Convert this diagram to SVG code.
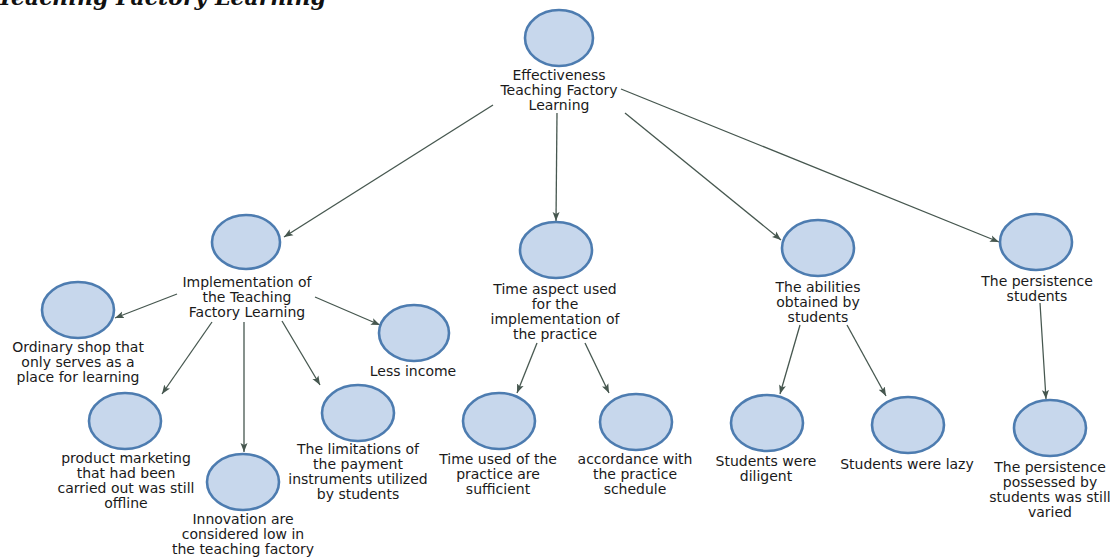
<svg xmlns="http://www.w3.org/2000/svg" width="1114" height="559" viewBox="0 0 1114 559">
<style>
  .node ellipse { fill: #c7d7ec; stroke: #4d7cb0; stroke-width: 2.6; }
  .node text { font-family: "DejaVu Sans", "Liberation Sans", sans-serif; font-size: 14px; fill: #1a1a1a; text-anchor: middle; }
  .edges line { stroke: #46574f; stroke-width: 1.3; fill: none; marker-end: url(#arr); }
  .title { font-family: "DejaVu Serif", "Liberation Serif", serif; font-weight: bold; font-style: italic; font-size: 22px; fill: #111; }
</style>
<defs>
  <marker id="arr" markerWidth="10" markerHeight="8" refX="9" refY="4" orient="auto" markerUnits="userSpaceOnUse">
    <path d="M0,0.5 L9,4 L0,7.5 L2,4 z" fill="#46574f"/>
  </marker>
</defs>
<rect width="1114" height="559" fill="#ffffff"/>
<text class="title" x="326" y="5" text-anchor="end">Teaching Factory Learning</text>

<g class="edges" id="connectors">
  <line x1="493" y1="105" x2="284" y2="237"/>
  <line x1="557" y1="113" x2="556" y2="221"/>
  <line x1="625" y1="113" x2="781" y2="240"/>
  <line x1="621" y1="89" x2="999" y2="242"/>
  <line x1="177" y1="294" x2="115" y2="318"/>
  <line x1="315" y1="297" x2="380" y2="325"/>
  <line x1="212" y1="322" x2="162" y2="394"/>
  <line x1="244" y1="322" x2="244" y2="452"/>
  <line x1="282" y1="321" x2="320" y2="385"/>
  <line x1="537" y1="343" x2="517" y2="393"/>
  <line x1="585" y1="343" x2="609" y2="393"/>
  <line x1="800" y1="325" x2="780" y2="394"/>
  <line x1="847" y1="325" x2="886" y2="396"/>
  <line x1="1040" y1="303" x2="1046" y2="399"/>
</g>

<g class="node" id="n-effectiveness">
  <ellipse cx="559" cy="38" rx="34" ry="28"/>
  <text x="559" y="80">Effectiveness</text>
  <text x="559" y="95">Teaching Factory</text>
  <text x="559" y="110">Learning</text>
</g>
<g class="node" id="n-implementation">
  <ellipse cx="246" cy="242" rx="34" ry="27"/>
  <text x="247" y="287">Implementation of</text>
  <text x="247" y="302">the Teaching</text>
  <text x="247" y="317">Factory Learning</text>
</g>
<g class="node" id="n-ordinary">
  <ellipse cx="78" cy="310" rx="36" ry="28"/>
  <text x="78" y="352">Ordinary shop that</text>
  <text x="78" y="367">only serves as a</text>
  <text x="78" y="382">place for learning</text>
</g>
<g class="node" id="n-less-income">
  <ellipse cx="414" cy="333" rx="35" ry="28"/>
  <text x="413" y="376">Less income</text>
</g>
<g class="node" id="n-product">
  <ellipse cx="125" cy="421" rx="36" ry="28"/>
  <text x="126" y="463">product marketing</text>
  <text x="126" y="478">that had been</text>
  <text x="126" y="493">carried out was still</text>
  <text x="126" y="508">offline</text>
</g>
<g class="node" id="n-innovation">
  <ellipse cx="243" cy="482" rx="36" ry="28"/>
  <text x="243" y="524">Innovation are</text>
  <text x="243" y="539">considered low in</text>
  <text x="243" y="554">the teaching factory</text>
</g>
<g class="node" id="n-limitations">
  <ellipse cx="358" cy="413" rx="36" ry="28"/>
  <text x="358" y="454">The limitations of</text>
  <text x="358" y="469">the payment</text>
  <text x="358" y="484">instruments utilized</text>
  <text x="358" y="499">by students</text>
</g>
<g class="node" id="n-time-aspect">
  <ellipse cx="556" cy="250" rx="36" ry="28"/>
  <text x="555" y="294">Time aspect used</text>
  <text x="555" y="309">for the</text>
  <text x="555" y="324">implementation of</text>
  <text x="555" y="339">the practice</text>
</g>
<g class="node" id="n-time-used">
  <ellipse cx="499" cy="421" rx="36" ry="28"/>
  <text x="498" y="464">Time used of the</text>
  <text x="498" y="479">practice are</text>
  <text x="498" y="494">sufficient</text>
</g>
<g class="node" id="n-accordance">
  <ellipse cx="636" cy="422" rx="36" ry="28"/>
  <text x="635" y="464">accordance with</text>
  <text x="635" y="479">the practice</text>
  <text x="635" y="494">schedule</text>
</g>
<g class="node" id="n-abilities">
  <ellipse cx="818" cy="248" rx="36" ry="28"/>
  <text x="818" y="292">The abilities</text>
  <text x="818" y="307">obtained by</text>
  <text x="818" y="322">students</text>
</g>
<g class="node" id="n-persistence">
  <ellipse cx="1036" cy="242" rx="36" ry="28"/>
  <text x="1037" y="286">The persistence</text>
  <text x="1037" y="301">students</text>
</g>
<g class="node" id="n-diligent">
  <ellipse cx="767" cy="423" rx="36" ry="28"/>
  <text x="766" y="466">Students were</text>
  <text x="766" y="481">diligent</text>
</g>
<g class="node" id="n-lazy">
  <ellipse cx="908" cy="425" rx="36" ry="28"/>
  <text x="907" y="469">Students were lazy</text>
</g>
<g class="node" id="n-persistence-varied">
  <ellipse cx="1050" cy="428" rx="36" ry="28"/>
  <text x="1050" y="472">The persistence</text>
  <text x="1050" y="487">possessed by</text>
  <text x="1050" y="502">students was still</text>
  <text x="1050" y="517">varied</text>
</g>
</svg>
